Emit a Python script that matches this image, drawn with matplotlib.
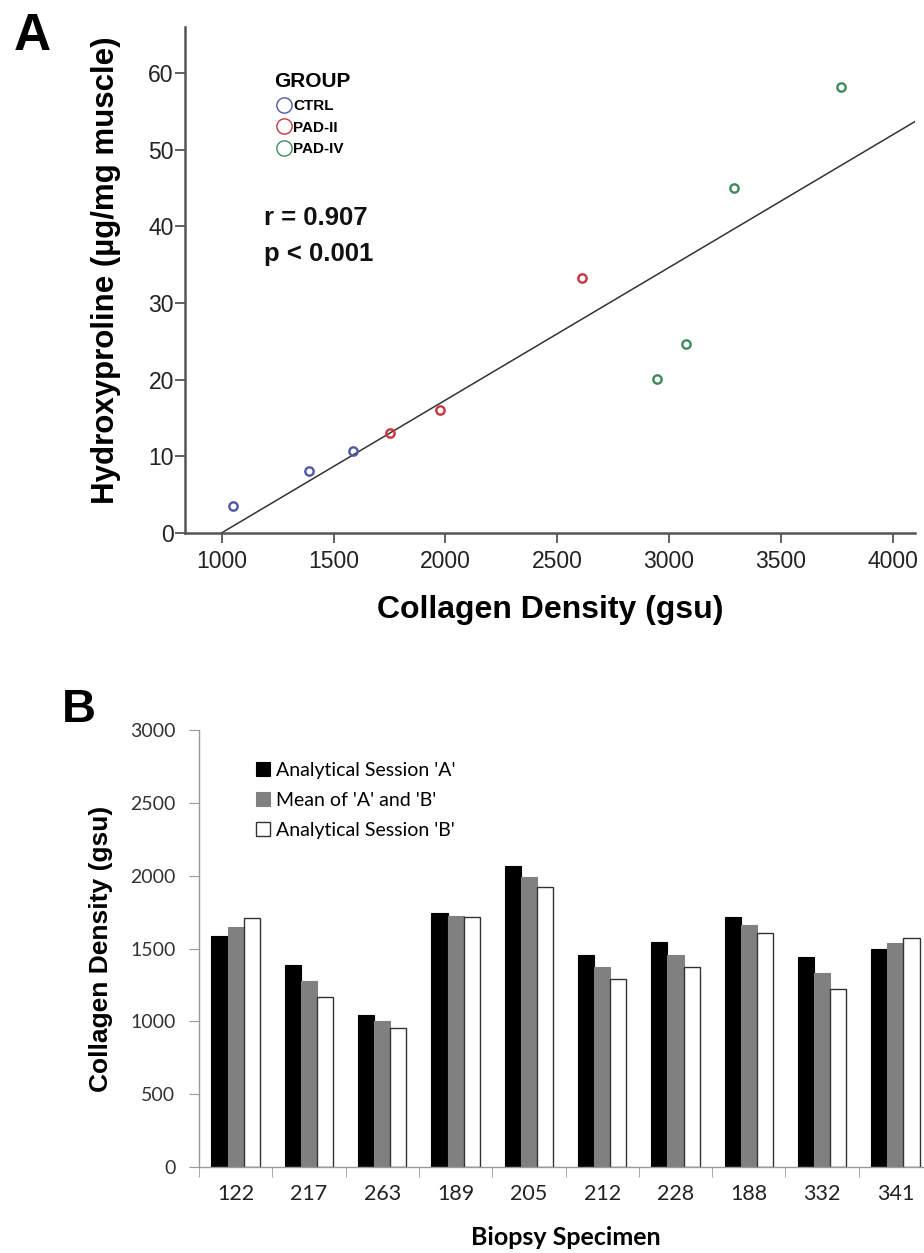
import numpy as np
import matplotlib.pyplot as plt

# パネルA: 散布図データ
ctrl_x = [1050, 1390, 1585]
ctrl_y = [3.5, 8.1, 10.7]
pad2_x = [1750, 1975, 2610]
pad2_y = [13.1, 16.1, 33.3]
pad4_x = [2945, 3075, 3290, 3770]
pad4_y = [20.1, 24.7, 45.0, 58.2]

# パネルB: 棒グラフデータ
specimens = ['122', '217', '263', '189', '205', '212', '228', '188', '332', '341']
session_a = [1585, 1385, 1045, 1745, 2065, 1455, 1545, 1715, 1440, 1500]
mean_ab = [1645, 1275, 1000, 1725, 1990, 1375, 1455, 1660, 1330, 1535]
session_b = [1710, 1165, 955, 1715, 1920, 1290, 1375, 1605, 1220, 1575]

ARIAL = 'Liberation Sans'
CALIBRI = 'Lato'

fig = plt.figure(figsize=(9.24, 12.53), dpi=100)

# ---- パネルA ----
axA = fig.add_axes([0.2002, 0.5746, 0.79, 0.404])
all_x = np.array(ctrl_x + pad2_x + pad4_x, dtype=float)
all_y = np.array(ctrl_y + pad2_y + pad4_y, dtype=float)
slope, intercept = np.polyfit(all_x, all_y, 1)
x0 = -intercept / slope
xlimA = (835, 4100)
axA.plot([x0, xlimA[1]], [0, slope * xlimA[1] + intercept], color='#333333', lw=1.1, zorder=1)

mk = dict(marker='o', ls='none', ms=6, mfc='none', mew=1.7)
axA.plot(ctrl_x, ctrl_y, mec='#5058a6', **mk)
axA.plot(pad2_x, pad2_y, mec='#cc3340', **mk)
axA.plot(pad4_x, pad4_y, mec='#3d8a5c', **mk)

# 凡例用のダミー(大きめの細い丸)
lk = dict(marker='o', ls='none', ms=11, mfc='none', mew=1.0)
hA = [axA.plot([], [], mec=c, **lk)[0] for c in ['#5058a6', '#cc3340', '#3d8a5c']]

axA.set_xlim(*xlimA)
axA.set_ylim(0, 66)
axA.set_xticks([1000, 1500, 2000, 2500, 3000, 3500, 4000])
axA.set_yticks([0, 10, 20, 30, 40, 50, 60])
for s in ['top', 'right']:
    axA.spines[s].set_visible(False)
for s in ['left', 'bottom']:
    axA.spines[s].set_color('#555555')
    axA.spines[s].set_linewidth(1.8)
axA.tick_params(direction='out', length=7, width=1.3, color='#555555',
                labelsize=16.5, labelcolor='#222222')
axA.tick_params(axis='y', pad=1)
axA.tick_params(axis='x', pad=5)
for t in axA.get_xticklabels() + axA.get_yticklabels():
    t.set_fontfamily(ARIAL)
axA.set_xlabel('Collagen Density (gsu)', fontsize=23, fontweight='bold',
               family=ARIAL, labelpad=16)
axA.set_ylabel('Hydroxyproline (µg/mg muscle)', fontsize=22.5, fontweight='bold',
               family=ARIAL)
axA.yaxis.set_label_coords(-0.088, 0.52)

legA = axA.legend(hA, ['CTRL', 'PAD-II', 'PAD-IV'], title='GROUP', loc='upper left',
                  bbox_to_anchor=(0.112, 0.925), frameon=False, borderpad=0,
                  handletextpad=0.05, labelspacing=0.5, handlelength=1.2,
                  alignment='left', prop={'family': ARIAL, 'weight': 'bold', 'size': 11})
legA.get_title().set_fontsize(15)
legA.get_title().set_fontweight('bold')
legA.get_title().set_fontfamily(ARIAL)

axA.text(0.108, 0.608, 'r = 0.907', transform=axA.transAxes, fontsize=18.5,
         fontweight='bold', family=ARIAL, va='baseline', color='#111111')
axA.text(0.108, 0.538, 'p < 0.001', transform=axA.transAxes, fontsize=18.5,
         fontweight='bold', family=ARIAL, va='baseline', color='#111111')

fig.text(0.015, 0.9601, 'A', fontsize=37, fontweight='bold', family=ARIAL, va='baseline')

# ---- パネルB ----
axB = fig.add_axes([0.2154, 0.0686, 0.7933, 0.3488])
x = np.arange(len(specimens))
w = 0.22
axB.bar(x - w, session_a, w, color='black', edgecolor='black', lw=0.8,
        label="Analytical Session 'A'")
axB.bar(x, mean_ab, w, color='#808080', edgecolor='#808080', lw=0.8,
        label="Mean of 'A' and 'B'")
axB.bar(x + w, session_b, w, color='white', edgecolor='#333333', lw=1.0,
        label="Analytical Session 'B'")

axB.set_xlim(-0.5, len(specimens) - 0.5)
axB.set_ylim(0, 3000)
axB.set_yticks(np.arange(0, 3001, 500))
axB.set_xticks(x)
axB.set_xticklabels(specimens)
axB.set_xticks(np.arange(-0.5, len(specimens), 1), minor=True)
for s in ['top', 'right']:
    axB.spines[s].set_visible(False)
for s in ['left', 'bottom']:
    axB.spines[s].set_color('#999999')
    axB.spines[s].set_linewidth(1.0)
axB.tick_params(axis='x', which='major', length=0, pad=12, labelsize=15.5,
                labelcolor='#222222')
axB.tick_params(axis='x', which='minor', length=7, color='#999999', direction='out')
axB.tick_params(axis='y', length=7, color='#999999', direction='out', labelsize=14,
                labelcolor='#333333', pad=10)
for t in axB.get_xticklabels() + axB.get_yticklabels():
    t.set_fontfamily(CALIBRI)
axB.set_xlabel('Biopsy Specimen', fontsize=18, fontweight='bold', family=CALIBRI,
               labelpad=16)
axB.set_ylabel('Collagen Density (gsu)', fontsize=19, fontweight='bold',
               family=ARIAL, labelpad=12)

axB.legend(loc='upper left', bbox_to_anchor=(0.065, 0.95), frameon=False,
           borderpad=0, handlelength=0.7, handleheight=0.7, handletextpad=0.3,
           labelspacing=0.67, prop={'family': CALIBRI, 'size': 14})

fig.text(0.067, 0.4238, 'B', fontsize=34, fontweight='bold', family=ARIAL, va='baseline')

fig.savefig('out.png', dpi=100)
